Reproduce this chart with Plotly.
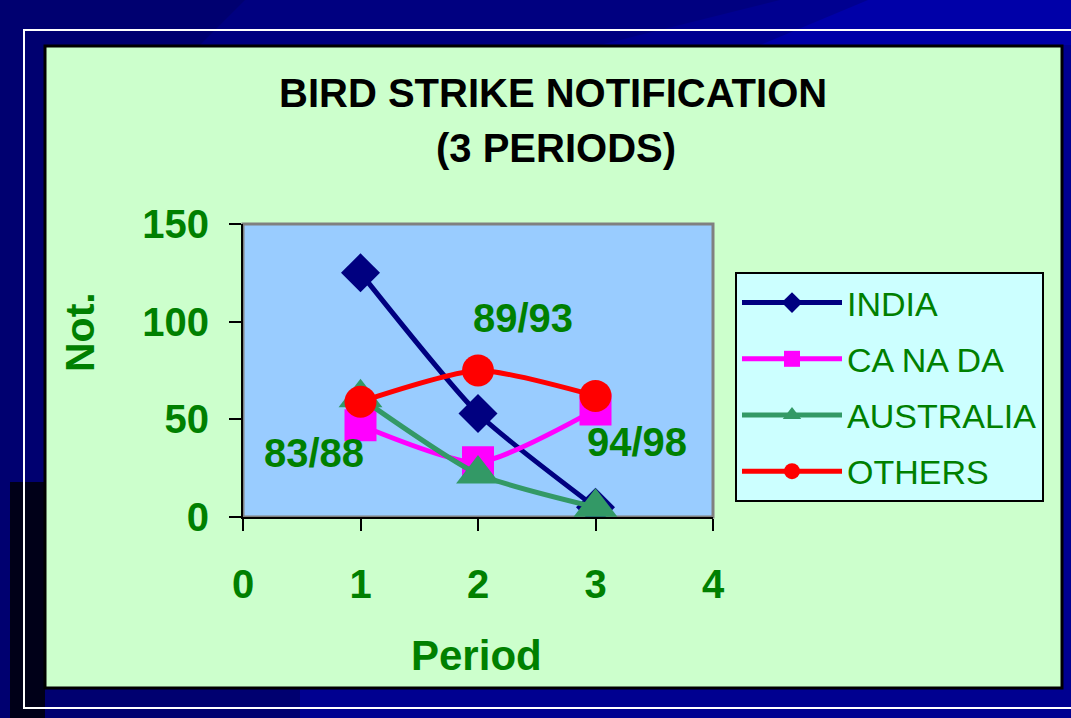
import plotly.graph_objects as go

periods = [1, 2, 3]
india = [125, 53, 5]
canada = [47, 28, 55]
australia = [61, 22, 5]
others = [59, 75, 62]
series_names = ["INDIA", "CA NA DA", "AUSTRALIA", "OTHERS"]
period_labels = ["83/88", "89/93", "94/98"]
label_x = [0.6, 2.38, 3.35]
label_y = [33, 102, 38.5]

W, H = 1071, 718
L, R, T, B = 243, 713, 224, 517

GREEN = "#008000"
FONT = "Liberation Sans, Arial, sans-serif"

fig = go.Figure()
styles = [
    ("#000080", "diamond", 30),
    ("#FF00FF", "square", 32),
    ("#339966", "triangle-up", 38),
    ("#FF0000", "circle", 32),
]
for name, ys, (col, sym, sz) in zip(series_names, [india, canada, australia, others], styles):
    fig.add_trace(go.Scatter(
        x=periods, y=ys, name=name, mode="lines+markers",
        line=dict(color=col, width=5, shape="spline", smoothing=0.6),
        marker=dict(color=col, symbol=sym, size=sz),
        legendgroup=name,
    ))


def px(x):
    return (x - L) / (R - L)


def py(y):
    return (B - y) / (B - T)


shapes = []
# background stripes
shapes.append(dict(type="rect", xref="paper", yref="paper", x0=px(-5), x1=px(W + 5), y0=py(H + 5), y1=py(-5),
                   fillcolor="#000090", line=dict(width=0), layer="below"))
shapes.append(dict(type="rect", xref="paper", yref="paper", x0=px(-5), x1=px(300), y0=py(H + 5), y1=py(-5),
                   fillcolor="#000070", line=dict(width=0), layer="below"))
shapes.append(dict(type="path", xref="paper", yref="paper",
                   path=f"M {px(250)},{py(-5)} L {px(800)},{py(-5)} L {px(600)},{py(45)} L {px(200)},{py(45)} Z",
                   fillcolor="#000080", line=dict(width=0), layer="below"))
shapes.append(dict(type="path", xref="paper", yref="paper",
                   path=f"M {px(880)},{py(-5)} L {px(1071)},{py(-5)} L {px(1071)},{py(45)} L {px(760)},{py(45)} Z",
                   fillcolor="#0000A8", line=dict(width=0), layer="below"))
shapes.append(dict(type="rect", xref="paper", yref="paper", x0=px(10), x1=px(45), y0=py(H + 5), y1=py(482),
                   fillcolor="#000018", line=dict(width=0), layer="below"))
# white frame
shapes.append(dict(type="rect", xref="paper", yref="paper", x0=px(24), x1=px(W + 20), y0=py(708), y1=py(30),
                   fillcolor="rgba(0,0,0,0)", line=dict(color="white", width=2), layer="below"))
# green panel
shapes.append(dict(type="rect", xref="paper", yref="paper", x0=px(45), x1=px(1062), y0=py(688), y1=py(46),
                   fillcolor="#CCFFCC", line=dict(color="black", width=3), layer="below"))
# plot area
shapes.append(dict(type="rect", xref="x domain", yref="y domain", x0=0, x1=1, y0=0, y1=1,
                   fillcolor="#99CCFF", line=dict(color="#808080", width=3), layer="below"))

annotations = [
    dict(text="BIRD STRIKE NOTIFICATION", x=px(553), y=py(93), xref="paper", yref="paper",
         showarrow=False, xanchor="center", yanchor="middle",
         font=dict(family=FONT, size=40, color="black", weight="bold")),
    dict(text="(3 PERIODS)", x=px(556), y=py(148), xref="paper", yref="paper",
         showarrow=False, xanchor="center", yanchor="middle",
         font=dict(family=FONT, size=40, color="black", weight="bold")),
    dict(text="Period", x=px(476), y=py(655), xref="paper", yref="paper",
         showarrow=False, xanchor="center", yanchor="middle",
         font=dict(family=FONT, size=42, color=GREEN, weight="bold")),
    dict(text="Not.", x=px(80), y=py(332), xref="paper", yref="paper", textangle=-90,
         showarrow=False, xanchor="center", yanchor="middle",
         font=dict(family=FONT, size=41, color=GREEN, weight="bold")),
]
for t, lx, ly in zip(period_labels, label_x, label_y):
    annotations.append(dict(text=t, x=lx, y=ly, xref="x", yref="y", showarrow=False,
                            xanchor="center", yanchor="middle",
                            font=dict(family=FONT, size=40, color=GREEN, weight="bold")))

fig.update_layout(
    width=W, height=H,
    margin=dict(l=L, r=W - R, t=T, b=H - B, autoexpand=False),
    paper_bgcolor="#000090",
    plot_bgcolor="#99CCFF",
    shapes=shapes,
    annotations=annotations,
    showlegend=True,
    legend=dict(
        x=px(735), y=py(272), xanchor="left", yanchor="top",
        bgcolor="#CCFFFF", bordercolor="black", borderwidth=2,
        font=dict(family=FONT, size=34, color=GREEN),
        itemwidth=100, tracegroupgap=9,
    ),
    xaxis=dict(
        range=[0, 4], dtick=1, tick0=0, showgrid=False, zeroline=False,
        showline=True, linecolor="black", linewidth=2,
        ticks="outside", ticklen=12, tickwidth=2, tickcolor="black",
        ticklabelstandoff=19,
        tickfont=dict(family=FONT, size=40, color=GREEN, weight="bold"),
    ),
    yaxis=dict(
        range=[0, 150], dtick=50, tick0=0, showgrid=False, zeroline=False,
        showline=True, linecolor="black", linewidth=2,
        ticks="outside", ticklen=12, tickwidth=2, tickcolor="black",
        ticklabelstandoff=12,
        tickfont=dict(family=FONT, size=40, color=GREEN, weight="bold"),
    ),
)

fig.write_html("out.html", config={"displayModeBar": False},
               post_script="document.body.style.margin='0';document.body.style.overflow='hidden';")
